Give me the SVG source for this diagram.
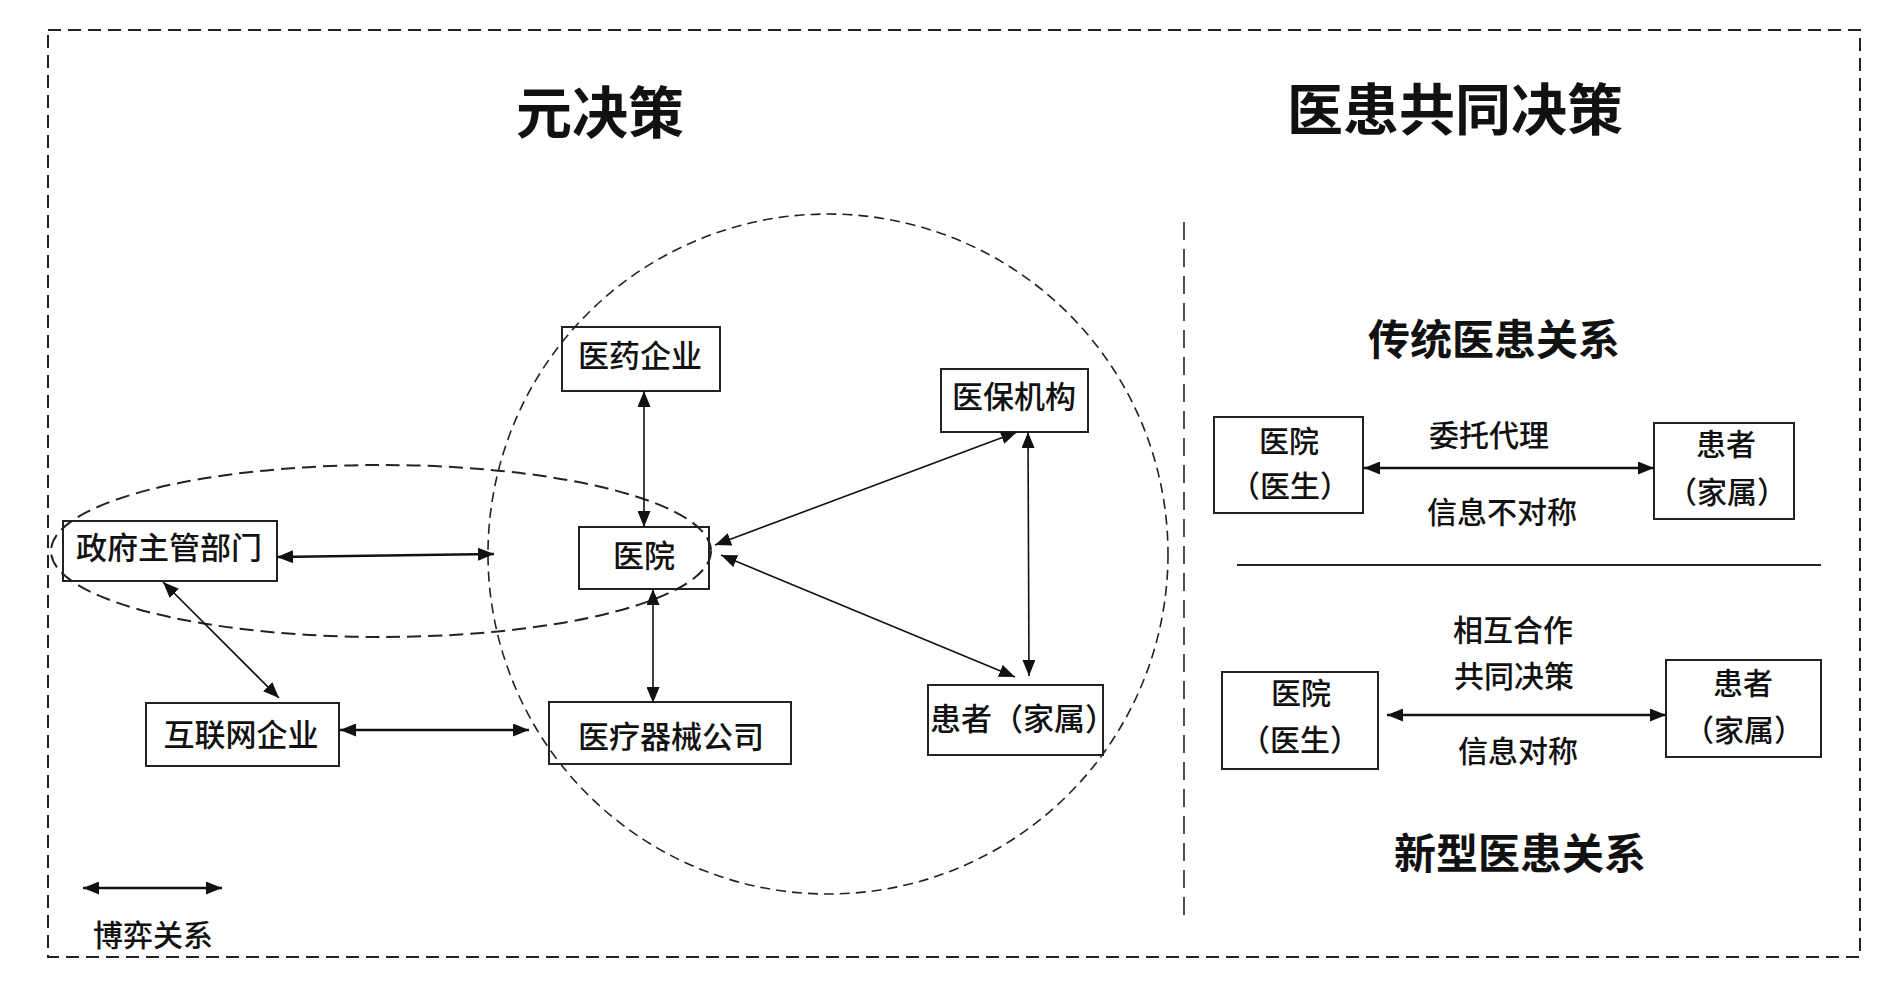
<svg xmlns="http://www.w3.org/2000/svg" width="1890" height="990" viewBox="0 0 1890 990">
<style>
text{font-family:"Liberation Serif","Noto Sans CJK SC",serif;fill:#111;text-anchor:middle}
.t1{font-size:56px;font-weight:bold}
.t2{font-size:42px;font-weight:bold}
.lb{font-size:31px;font-weight:500}
.ls{font-size:30px;font-weight:500}
.box{fill:none;stroke:#222;stroke-width:2}
.c{fill:none;stroke:#111;stroke-width:1.6;marker-start:url(#ah);marker-end:url(#ah)}
.ck{fill:none;stroke:#111;stroke-width:2.6;marker-start:url(#ah);marker-end:url(#ah)}
.dash{fill:none;stroke:#222}
</style>
<defs>
<marker id="ah" viewBox="0 0 16 13" refX="16" refY="6.5" markerWidth="16" markerHeight="13" markerUnits="userSpaceOnUse" orient="auto-start-reverse">
<path d="M0,0 L16,6.5 L0,13 z" fill="#111"/>
</marker>
</defs>
<rect width="1890" height="990" fill="#fff"/>
<g id="frame">
<rect class="dash" x="48" y="30" width="1812" height="927" stroke-width="2" stroke-dasharray="13 7"/>
<line class="dash" x1="1184" y1="222" x2="1184" y2="922" stroke-width="1.6" stroke-dasharray="18 9"/>
<line x1="1237" y1="565" x2="1821" y2="565" stroke="#222" stroke-width="2"/>
</g>
<g id="regions">
<ellipse class="dash" cx="381" cy="551" rx="330" ry="86" stroke-width="2" stroke-dasharray="14 7"/>
<circle class="dash" cx="828" cy="554" r="340" stroke-width="1.6" stroke-dasharray="10 6"/>
</g>
<g id="titles">
<text class="t1" x="600" y="133">元决策</text>
<text class="t1" x="1455" y="130">医患共同决策</text>
<text class="t2" x="1494" y="355">传统医患关系</text>
<text class="t2" x="1520" y="869">新型医患关系</text>
</g>
<g id="n-pharma"><rect class="box" x="562" y="327" width="158" height="64"/><text class="lb" x="640" y="367">医药企业</text></g>
<g id="n-hospital"><rect class="box" x="579" y="527" width="130" height="62"/><text class="lb" x="644" y="567">医院</text></g>
<g id="n-insurance"><rect class="box" x="941" y="369" width="147" height="63"/><text class="lb" x="1014" y="408">医保机构</text></g>
<g id="n-gov"><rect class="box" x="63" y="521" width="214" height="60"/><text class="lb" x="169" y="559">政府主管部门</text></g>
<g id="n-internet"><rect class="box" x="146" y="703" width="193" height="63"/><text class="lb" x="241" y="746">互联网企业</text></g>
<g id="n-device"><rect class="box" x="549" y="702" width="242" height="62"/><text class="lb" x="671" y="748">医疗器械公司</text></g>
<g id="n-patient"><rect class="box" x="928" y="685" width="175" height="70"/><text class="lb" x="1023" y="730">患者（家属）</text></g>
<g id="n-trad-hospital"><rect class="box" x="1214" y="417" width="149" height="96"/><text class="ls" x="1289" y="452">医院</text><text class="ls" x="1290" y="497">（医生）</text></g>
<g id="n-trad-patient"><rect class="box" x="1654" y="423" width="140" height="96"/><text class="ls" x="1726" y="455">患者</text><text class="ls" x="1727" y="503">（家属）</text></g>
<g id="n-new-hospital"><rect class="box" x="1222" y="672" width="156" height="97"/><text class="ls" x="1301" y="704">医院</text><text class="ls" x="1300" y="751">（医生）</text></g>
<g id="n-new-patient"><rect class="box" x="1666" y="660" width="155" height="97"/><text class="ls" x="1743" y="694">患者</text><text class="ls" x="1744" y="741">（家属）</text></g>
<g id="labels">
<text class="ls" x="1489" y="446">委托代理</text>
<text class="ls" x="1502" y="523">信息不对称</text>
<text class="ls" x="1513" y="641">相互合作</text>
<text class="ls" x="1514" y="687">共同决策</text>
<text class="ls" x="1518" y="762">信息对称</text>
<text class="ls" x="153" y="946">博弈关系</text>
</g>
<g id="connectors">
<line class="c" x1="644" y1="391" x2="644" y2="527"/>
<line class="c" x1="653" y1="589" x2="653" y2="703"/>
<line class="ck" x1="277" y1="557" x2="494" y2="554"/>
<line class="c" x1="163" y1="582" x2="279" y2="698"/>
<line class="ck" x1="340" y1="730" x2="529" y2="730"/>
<line class="c" x1="715" y1="545" x2="1017" y2="432"/>
<line class="c" x1="721" y1="555" x2="1015" y2="677"/>
<line class="c" x1="1028" y1="432" x2="1029" y2="676"/>
<line class="ck" x1="1364" y1="468" x2="1654" y2="468"/>
<line class="ck" x1="1387" y1="715" x2="1666" y2="715"/>
<line class="ck" x1="83" y1="888" x2="222" y2="888"/>
</g>
</svg>
